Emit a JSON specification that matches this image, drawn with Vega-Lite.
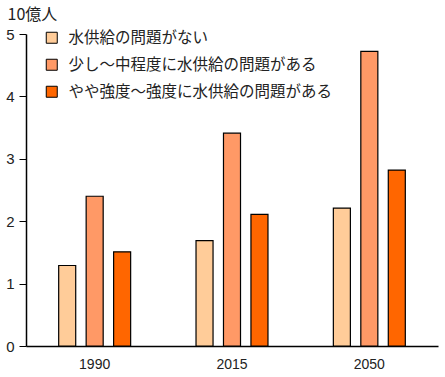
{
  "$schema": "https://vega.github.io/schema/vega-lite/v6.json",
  "width": 412,
  "height": 312,
  "autosize": {"type": "none"},
  "padding": {"left": 26, "top": 34, "right": 7, "bottom": 31},
  "background": "white",
  "config": {
    "view": {"stroke": null},
    "font": "Noto Sans CJK JP"
  },
  "data": {
    "values": [
      {"year": "1990", "cat": "水供給の問題がない", "v": 1.29},
      {"year": "1990", "cat": "少し～中程度に水供給の問題がある", "v": 2.40},
      {"year": "1990", "cat": "やや強度～強度に水供給の問題がある", "v": 1.51},
      {"year": "2015", "cat": "水供給の問題がない", "v": 1.69},
      {"year": "2015", "cat": "少し～中程度に水供給の問題がある", "v": 3.41},
      {"year": "2015", "cat": "やや強度～強度に水供給の問題がある", "v": 2.11},
      {"year": "2050", "cat": "水供給の問題がない", "v": 2.21},
      {"year": "2050", "cat": "少し～中程度に水供給の問題がある", "v": 4.72},
      {"year": "2050", "cat": "やや強度～強度に水供給の問題がある", "v": 2.82}
    ]
  },
  "mark": {"type": "bar", "stroke": "black", "strokeWidth": 1.2},
  "encoding": {
    "x": {
      "field": "year", "type": "nominal", "title": null,
      "scale": {"paddingInner": 0.4, "paddingOuter": 0.2},
      "axis": {
        "labelAngle": 0, "domainColor": "black", "domainWidth": 1.5,
        "ticks": false, "labelFontSize": 14, "labelColor": "#222",
        "labelFont": "Liberation Sans",
        "labelPadding": 11, "grid": false
      }
    },
    "xOffset": {
      "field": "cat", "type": "nominal",
      "sort": ["水供給の問題がない", "少し～中程度に水供給の問題がある", "やや強度～強度に水供給の問題がある"],
      "scale": {"paddingInner": 0.38, "paddingOuter": 0.19}
    },
    "y": {
      "field": "v", "type": "quantitative",
      "scale": {"domain": [0, 5], "nice": false},
      "title": "10億人",
      "axis": {
        "values": [0, 1, 2, 3, 4, 5], "grid": false,
        "domainColor": "black", "domainWidth": 1.5,
        "tickColor": "black", "tickSize": 7, "tickWidth": 1,
        "labelFontSize": 15, "labelColor": "#222", "labelPadding": 5,
        "labelFont": "Liberation Sans",
        "titleAngle": 0, "titleX": -19, "titleY": -20,
        "titleAlign": "left", "titleBaseline": "middle",
        "titleFontSize": 16, "titleFontWeight": "normal", "titleColor": "#222"
      }
    },
    "color": {
      "field": "cat", "type": "nominal", "title": null,
      "sort": ["水供給の問題がない", "少し～中程度に水供給の問題がある", "やや強度～強度に水供給の問題がある"],
      "scale": {
        "domain": ["水供給の問題がない", "少し～中程度に水供給の問題がある", "やや強度～強度に水供給の問題がある"],
        "range": ["#FFCC99", "#FF9966", "#FF6600"]
      },
      "legend": {
        "orient": "none", "legendX": 18, "legendY": -4,
        "symbolType": "square", "symbolSize": 121,
        "symbolStrokeColor": "black", "symbolStrokeWidth": 1,
        "labelFontSize": 15.5, "labelColor": "#222", "labelOffset": 9,
        "labelLimit": 0, "rowPadding": 10
      }
    }
  }
}
